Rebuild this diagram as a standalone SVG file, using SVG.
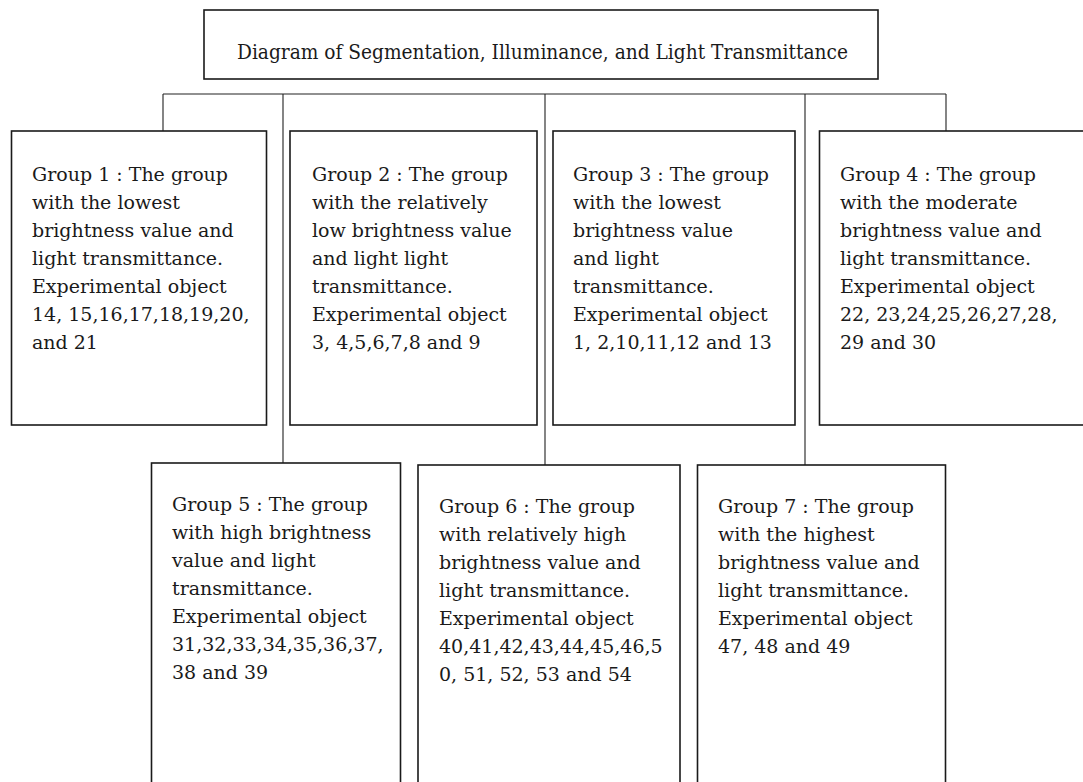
<svg xmlns="http://www.w3.org/2000/svg" width="1083" height="782" viewBox="0 0 1083 782">
<style>
.box{fill:#fff;stroke:#1a1a1a;stroke-width:1.6}
.conn{fill:none;stroke:#222;stroke-width:1.1}
.t{font-family:"DejaVu Serif","Liberation Serif",serif;font-size:19px;fill:#1a1a1a}
.title{font-family:"DejaVu Serif","Liberation Serif",serif;font-size:20px;fill:#1a1a1a;font-stretch:condensed}
</style>
<rect x="0" y="0" width="1083" height="782" fill="#fff"/>
<g id="connectors">
<path class="conn" d="M163 94H946M163 94V131M946 94V131M283 94V463M545 94V465M805 94V465"/>
</g>
<g id="title">
<rect class="box" x="204" y="10" width="674" height="69"/>
<text class="title" x="237" y="59" textLength="611" lengthAdjust="spacingAndGlyphs">Diagram of Segmentation, Illuminance, and Light Transmittance</text>
</g>
<g id="group1">
<rect class="box" x="11.5" y="131" width="255" height="294"/>
<text class="t" x="32" y="181"><tspan x="32">Group 1 : The group</tspan><tspan x="32" dy="28">with the lowest</tspan><tspan x="32" dy="28">brightness value and</tspan><tspan x="32" dy="28">light transmittance.</tspan><tspan x="32" dy="28">Experimental object</tspan><tspan x="32" dy="28">14, 15,16,17,18,19,20,</tspan><tspan x="32" dy="28">and 21</tspan></text>
</g>
<g id="group2">
<rect class="box" x="290" y="131" width="247" height="294"/>
<text class="t" x="312" y="181"><tspan x="312">Group 2 : The group</tspan><tspan x="312" dy="28">with the relatively</tspan><tspan x="312" dy="28">low brightness value</tspan><tspan x="312" dy="28">and light light</tspan><tspan x="312" dy="28">transmittance.</tspan><tspan x="312" dy="28">Experimental object</tspan><tspan x="312" dy="28">3, 4,5,6,7,8 and 9</tspan></text>
</g>
<g id="group3">
<rect class="box" x="553" y="131" width="242" height="294"/>
<text class="t" x="573" y="181"><tspan x="573">Group 3 : The group</tspan><tspan x="573" dy="28">with the lowest</tspan><tspan x="573" dy="28">brightness value</tspan><tspan x="573" dy="28">and light</tspan><tspan x="573" dy="28">transmittance.</tspan><tspan x="573" dy="28">Experimental object</tspan><tspan x="573" dy="28">1, 2,10,11,12 and 13</tspan></text>
</g>
<g id="group4">
<rect class="box" x="819.5" y="131" width="280" height="294"/>
<text class="t" x="840" y="181"><tspan x="840">Group 4 : The group</tspan><tspan x="840" dy="28">with the moderate</tspan><tspan x="840" dy="28">brightness value and</tspan><tspan x="840" dy="28">light transmittance.</tspan><tspan x="840" dy="28">Experimental object</tspan><tspan x="840" dy="28">22, 23,24,25,26,27,28,</tspan><tspan x="840" dy="28">29 and 30</tspan></text>
</g>
<g id="group5">
<rect class="box" x="151.5" y="463" width="249" height="340"/>
<text class="t" x="172" y="511"><tspan x="172">Group 5 : The group</tspan><tspan x="172" dy="28">with high brightness</tspan><tspan x="172" dy="28">value and light</tspan><tspan x="172" dy="28">transmittance.</tspan><tspan x="172" dy="28">Experimental object</tspan><tspan x="172" dy="28">31,32,33,34,35,36,37,</tspan><tspan x="172" dy="28">38 and 39</tspan></text>
</g>
<g id="group6">
<rect class="box" x="418" y="465" width="262" height="340"/>
<text class="t" x="439" y="513"><tspan x="439">Group 6 : The group</tspan><tspan x="439" dy="28">with relatively high</tspan><tspan x="439" dy="28">brightness value and</tspan><tspan x="439" dy="28">light transmittance.</tspan><tspan x="439" dy="28">Experimental object</tspan><tspan x="439" dy="28">40,41,42,43,44,45,46,5</tspan><tspan x="439" dy="28">0, 51, 52, 53 and 54</tspan></text>
</g>
<g id="group7">
<rect class="box" x="697.5" y="465" width="248" height="340"/>
<text class="t" x="718" y="513"><tspan x="718">Group 7 : The group</tspan><tspan x="718" dy="28">with the highest</tspan><tspan x="718" dy="28">brightness value and</tspan><tspan x="718" dy="28">light transmittance.</tspan><tspan x="718" dy="28">Experimental object</tspan><tspan x="718" dy="28">47, 48 and 49</tspan></text>
</g>
</svg>
